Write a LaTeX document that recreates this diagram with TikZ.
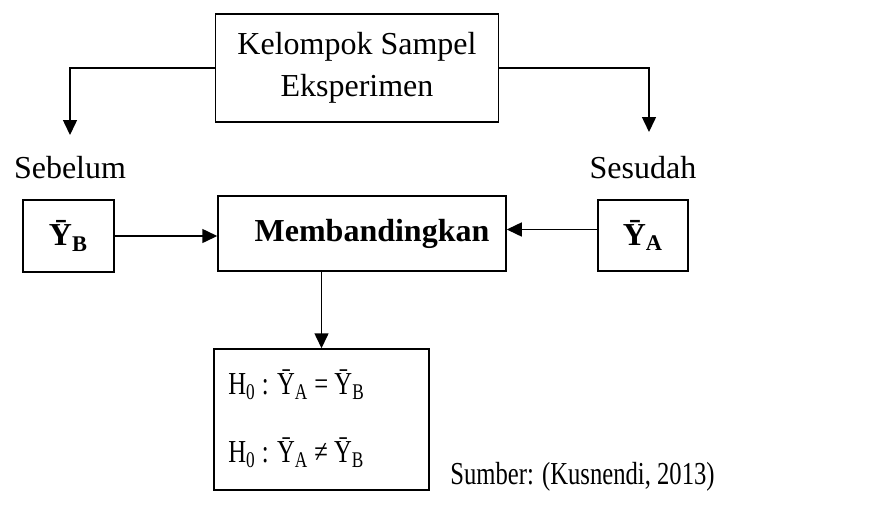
\documentclass[tikz,border=0pt]{standalone}
\usepackage{fontspec}
\setmainfont{Liberation Serif}
\newfontfamily\sempit[FakeStretch=0.77]{Liberation Serif}
\usetikzlibrary{arrows.meta}

\begin{document}
\begin{tikzpicture}[x=0.5pt,y=-0.5pt,
    font=\fontsize{16}{21}\selectfont,
    kotak/.style={draw,line width=0.75pt,inner sep=0pt},
    panah/.style={-{Triangle[length=7.5pt,width=7pt]},line width=0.75pt}]

    \useasboundingbox (0,0) rectangle (886,504);

    \node[kotak,minimum width=141.5pt,minimum height=54pt,align=center] (K) at (357,68) {Kelompok Sampel\\Eksperimen};
    \node (sebelum) at (70,168) {Sebelum};
    \node (sesudah) at (643,168) {Sesudah};

    \node[kotak,minimum width=45.5pt,minimum height=36pt] (YB) at (68.5,236) {\bfseries \=Y\textsubscript{B}};
    \node[kotak,minimum width=144pt,minimum height=37.5pt] (M) at (362,233.5) {\bfseries\hspace{10pt}Membandingkan};
    \node[kotak,minimum width=45pt,minimum height=35.5pt] (YA) at (643,235.5) {\bfseries \=Y\textsubscript{A}};

    \node[kotak,minimum width=107.5pt,minimum height=70.5pt] (H) at (321.5,419.5) {};
    \node[anchor=west,inner sep=0pt] (h1) at (228,385) {\sempit H\textsubscript{0} : \=Y\textsubscript{A} = \=Y\textsubscript{B}};
    \node[anchor=west,inner sep=0pt] (h2) at (228,453) {\sempit H\textsubscript{0} : \=Y\textsubscript{A} ≠ \=Y\textsubscript{B}};
    \node (sumber) at (582.5,477) {\sempit Sumber: (Kusnendi, 2013)};

    \coordinate (ujungKiri) at (70,135);
    \coordinate (ujungKanan) at (649,132);
    \draw[panah] (K.west) -| (ujungKiri);
    \draw[panah] (K.east) -| (ujungKanan);
    \draw[panah] (YB.east) -- (YB.east -| M.west);
    \draw[panah] ([yshift=3pt]YA.west) -- ([yshift=3pt]YA.west -| M.east);
    \draw[panah] (H.north |- M.south) -- (H.north);

\end{tikzpicture}
\end{document}
